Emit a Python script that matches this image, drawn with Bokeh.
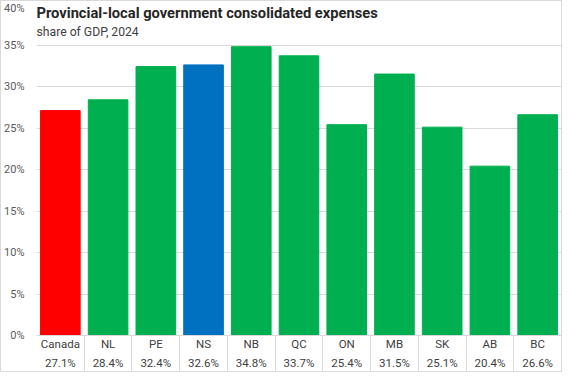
from bokeh.plotting import figure
from bokeh.models import Range1d, FixedTicker, ColumnDataSource, Label, PrintfTickFormatter
from bokeh.embed import file_html
from bokeh.resources import INLINE

# ---- data ----
categories = ["Canada", "NL", "PE", "NS", "NB", "QC", "ON", "MB", "SK", "AB", "BC"]
values = [27.1, 28.4, 32.4, 32.6, 34.8, 33.7, 25.4, 31.5, 25.1, 20.4, 26.6]
bar_colors = ["#FF0000", "#00B050", "#00B050", "#0070C0", "#00B050", "#00B050",
              "#00B050", "#00B050", "#00B050", "#00B050", "#00B050"]
y_ticks = [0, 5, 10, 15, 20, 25, 30, 35, 40]
title_text = "Provincial-local government consolidated expenses"
subtitle_text = "share of GDP, 2024"

n = len(categories)
idx = list(range(n))
value_labels = [f"{v:.1f}%" for v in values]
boundaries = [i + 0.5 for i in range(n - 1)]

FONT = "Roboto"
GRID = "#d9d9d9"

p = figure(width=562, height=372, output_backend="svg", toolbar_location=None,
           x_range=Range1d(-0.5, n - 0.5), y_range=Range1d(y_ticks[0], y_ticks[-1]),
           min_border_left=28, min_border_right=2, min_border_top=2, min_border_bottom=34)
p.outline_line_color = None
p.background_fill_color = "white"
p.border_fill_color = "white"
p.styles = {"border": "1px solid #d9d9d9", "box-sizing": "border-box"}

src = ColumnDataSource(dict(x=idx, top=values, color=bar_colors))
p.vbar(x="x", top="top", width=0.83, color="color", source=src)

# y axis
p.yaxis.ticker = FixedTicker(ticks=y_ticks)
p.yaxis.formatter = PrintfTickFormatter(format="%d%%")
p.yaxis.axis_line_color = None
p.yaxis.major_tick_line_color = None
p.yaxis.minor_tick_line_color = None
p.yaxis.major_label_text_font = FONT
p.yaxis.major_label_text_font_size = "11px"
p.yaxis.major_label_text_color = "#595959"
p.yaxis.major_label_standoff = 6
p.ygrid.grid_line_color = GRID
p.ygrid.ticker = FixedTicker(ticks=y_ticks)
p.xgrid.grid_line_color = None

# x axis: baseline, data-table labels (category + value) and separators
p.xaxis.ticker = FixedTicker(ticks=idx, minor_ticks=boundaries)
p.xaxis.major_label_overrides = {i: f"{c}\n{v}" for i, c, v in zip(idx, categories, value_labels)}
p.xaxis.axis_line_color = GRID
p.xaxis.major_tick_line_color = None
p.xaxis.major_tick_in = 0
p.xaxis.major_tick_out = 0
p.xaxis.minor_tick_line_color = GRID
p.xaxis.minor_tick_in = 0
p.xaxis.minor_tick_out = 35
p.xaxis.major_label_standoff = -34
p.xaxis.major_label_text_font = FONT
p.xaxis.major_label_text_font_size = "11.5px"
p.xaxis.major_label_text_color = "#404040"
p.xaxis.major_label_text_line_height = 1.4

# title and subtitle
t = Label(x=-0.5, y=y_ticks[-1], x_offset=0, y_offset=-9, text=title_text,
          text_font=FONT, text_font_style="bold", text_font_size="14.7px",
          text_color="#262626", text_baseline="middle",
          background_fill_color="white")
s = Label(x=-0.5, y=y_ticks[-1], x_offset=0, y_offset=-28, text=subtitle_text,
          text_font=FONT, text_font_size="12.2px", text_color="#404040",
          text_baseline="middle")
p.add_layout(t)
p.add_layout(s)

open("out.html", "w").write(file_html(p, INLINE))
